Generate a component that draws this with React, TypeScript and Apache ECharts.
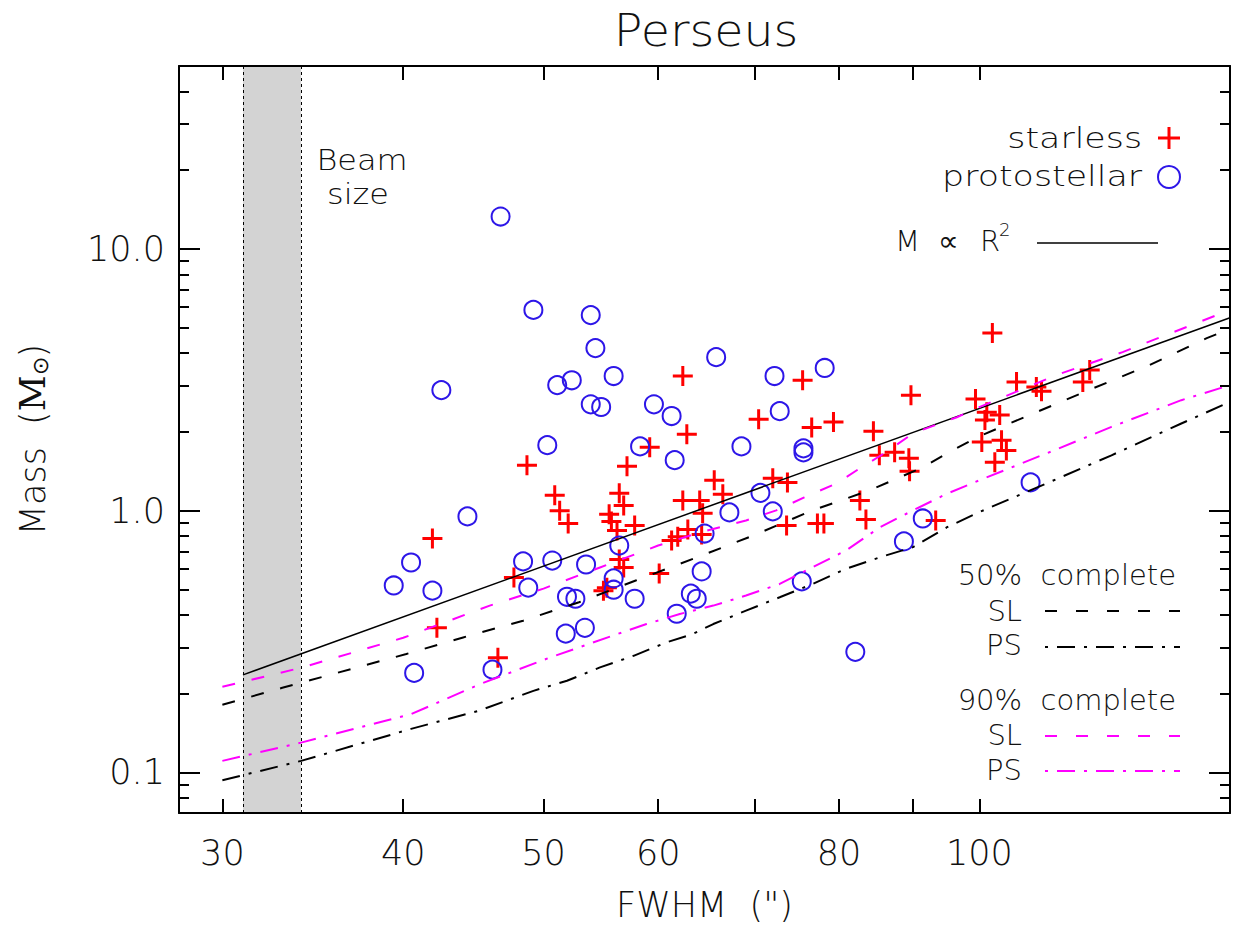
import React, { useEffect, useRef } from 'react';
import * as echarts from 'echarts';

// ---- axis ticks ----
const xTickValues = [30, 40, 50, 60, 70, 80, 90, 100];
const xLabelValues = [30, 40, 50, 60, 80, 100];
const yMajorValues = [0.1, 1, 10];
const yMinorValues = [0.08, 0.09, 0.2, 0.3, 0.4, 0.5, 0.6, 0.7, 0.8, 0.9, 2, 3, 4, 5, 6, 7, 8, 9, 20, 30, 40];

// ---- starless cores ----
const starlessFWHM = [41.9, 42.2, 46.5, 47.7, 48.7, 50.9, 51.3, 52.0, 55.5, 55.7, 56.2, 56.4, 56.8, 57.1, 57.8, 56.4, 56.8, 55.0, 55.3, 59.2, 60.1, 62.4, 62.8, 62.4, 64.1, 64.4, 62.9, 64.3, 61.3, 61.9, 65.6, 66.5, 70.4, 72.0, 73.7, 73.6, 75.5, 76.6, 79.3, 77.3, 78.1, 84.5, 82.7, 83.5, 85.3, 87.4, 89.4, 89.5, 89.7, 93.3, 99.4, 101.2, 100.9, 103.3, 100.4, 103.6, 104.4, 102.5, 102.1, 106.1, 109.5, 110.4, 117.9, 119.2];
const starlessMass = [0.783, 0.357, 0.274, 0.556, 1.49, 1.145, 1.0, 0.894, 0.97, 0.91, 0.84, 1.165, 1.048, 1.48, 0.878, 0.651, 0.607, 0.495, 0.508, 1.747, 0.575, 3.27, 1.96, 1.095, 1.095, 0.977, 0.848, 0.811, 0.769, 0.796, 1.306, 1.155, 2.236, 1.329, 1.283, 0.878, 3.15, 2.08, 2.18, 0.894, 0.894, 2.01, 1.095, 0.926, 1.628, 1.672, 1.585, 1.414, 2.76, 0.918, 2.67, 2.38, 2.22, 2.32, 1.83, 1.86, 1.70, 1.53, 4.77, 3.10, 2.97, 2.86, 3.10, 3.45];

// ---- protostellar cores ----
const protoFWHM = [46.7, 49.2, 53.9, 54.3, 42.5, 51.1, 52.3, 55.9, 53.9, 54.8, 59.6, 61.3, 50.3, 58.3, 61.6, 65.8, 72.2, 78.2, 72.8, 68.5, 75.6, 75.6, 70.6, 67.2, 72.0, 64.6, 64.3, 63.2, 63.8, 61.8, 75.4, 82.1, 88.7, 91.4, 108.5, 44.3, 40.5, 39.4, 41.9, 40.7, 46.1, 48.4, 48.8, 50.7, 53.5, 51.9, 52.6, 51.8, 53.4, 56.4, 55.9, 55.9, 57.8];
const protoMass = [13.3, 5.85, 5.59, 4.18, 2.89, 3.02, 3.15, 3.27, 2.55, 2.49, 2.55, 2.30, 1.78, 1.76, 1.56, 3.86, 3.27, 3.51, 2.40, 1.76, 1.73, 1.67, 1.17, 0.985, 0.994, 0.818, 0.586, 0.482, 0.461, 0.404, 0.537, 0.289, 0.763, 0.934, 1.283, 0.951, 0.634, 0.518, 0.495, 0.240, 0.247, 0.640, 0.508, 0.645, 0.623, 0.469, 0.461, 0.339, 0.357, 0.736, 0.551, 0.499, 0.461];

// ---- M ∝ R^2 ----
const powerLawFWHM = [31, 149];
const powerLawMass = [0.236, 5.46];

// ---- completeness curves ----
const sl50FWHM = [30, 33.0, 40.2, 44.0, 48.4, 52.9, 57.9, 63.8, 69.8, 76.7, 84.0, 91.4, 95.0, 100, 109.5, 119.9, 131.1, 143.6, 149];
const sl50Mass = [0.1813, 0.2106, 0.2835, 0.328, 0.380, 0.447, 0.541, 0.663, 0.804, 1.003, 1.196, 1.465, 1.657, 1.925, 2.380, 2.937, 3.600, 4.564, 4.949];
const ps50FWHM = [30, 34.0, 40.5, 45.1, 49.2, 51.9, 54.7, 57.7, 60.8, 63.4, 65.5, 69.0, 72.8, 76.7, 80.9, 85.4, 90.0, 95.0, 100, 111.2, 123.4, 137.9, 149];
const ps50Mass = [0.0934, 0.1107, 0.1467, 0.172, 0.205, 0.224, 0.252, 0.279, 0.314, 0.338, 0.369, 0.415, 0.467, 0.525, 0.600, 0.664, 0.726, 0.865, 0.988, 1.269, 1.628, 2.153, 2.604];
const sl90FWHM = [30, 34.0, 40, 45.9, 50, 54.7, 60, 64.1, 69.0, 72.4, 75.7, 79.7, 82.7, 86.2, 90, 96.5, 100, 113.0, 125.6, 141.9, 149];
const sl90Mass = [0.2125, 0.2512, 0.327, 0.434, 0.504, 0.607, 0.736, 0.826, 0.918, 1.003, 1.124, 1.272, 1.452, 1.672, 1.976, 2.276, 2.488, 3.295, 4.036, 5.26, 5.845];
const ps90FWHM = [30, 34.0, 40.5, 42.8, 45.2, 47.8, 50.2, 52.9, 55.8, 58.9, 62.1, 65.5, 69.0, 72.8, 76.7, 80.9, 85.4, 90.0, 95.0, 100, 111.2, 123.4, 137.9, 149];
const ps90Mass = [0.1107, 0.130, 0.167, 0.1907, 0.2176, 0.2447, 0.2713, 0.3005, 0.333, 0.369, 0.403, 0.434, 0.474, 0.525, 0.608, 0.705, 0.865, 1.003, 1.162, 1.306, 1.653, 2.090, 2.644, 3.018];

// ---- beam size band ----
const beamRange = [31, 34];

const FONT = 'DejaVu Sans';
const RED = '#ff0000';
const BLUE = '#2d16e8';
const MAGENTA = '#ff00ff';
const DASH = [13, 17];
const DASHDOT = [18, 9, 3, 9];

const zip = (a: number[], b: number[]) => a.map((v, i) => [v, b[i]]);

export default function App() {
  const ref = useRef<HTMLDivElement>(null);
  useEffect(() => {
    const chart = echarts.init(ref.current!, null, { renderer: 'svg' });
    const tickStyle = { color: '#000', width: 2 };
    const xBase: any = {
      type: 'log', logBase: 10, min: 28, max: 149, z: 10,
      splitLine: { show: false },
      axisLine: { show: true, lineStyle: { color: '#000', width: 2 } },
      axisTick: { show: true, inside: true, length: 14, customValues: xTickValues, lineStyle: tickStyle },
    };
    const yBase: any = {
      type: 'log', logBase: 10, min: 0.07, max: 50, z: 10,
      splitLine: { show: false },
      axisLine: { show: true, lineStyle: { color: '#000', width: 2 } },
    };
    const text = (t: string, x: number, y: number, size: number, align: string, sx = 1, extra: any = {}) => ({
      type: 'text', x, y, scaleX: sx, z: 100,
      style: { text: t, fontSize: size, fontFamily: FONT, fontWeight: 200, fill: '#111', align, verticalAlign: 'middle', ...extra },
    });
    const hline = (x1: number, x2: number, y: number, color: string, dash: any, w = 2) => ({
      type: 'line', z: 100,
      shape: { x1, y1: y, x2, y2: y },
      style: { stroke: color, lineWidth: w, lineDash: dash },
    });

    chart.setOption({
      animation: false,
      grid: { left: 179, top: 66, right: 9, bottom: 118 },
      xAxis: [
        {
          ...xBase, position: 'bottom',
          axisLabel: {
            customValues: xLabelValues, fontSize: 35, fontFamily: FONT, fontWeight: 200, color: '#111', margin: 22,
            formatter: (v: number) => String(Math.round(v)),
          },
          name: 'FWHM  (")', nameLocation: 'middle', nameGap: 74,
          nameTextStyle: { fontSize: 35, fontFamily: FONT, fontWeight: 200, color: '#111' },
        },
        { ...xBase, position: 'top', axisLabel: { show: false } },
      ],
      yAxis: [
        {
          ...yBase, position: 'left',
          axisTick: { show: true, inside: true, length: 21, customValues: yMajorValues, lineStyle: tickStyle },
          axisLabel: {
            customValues: yMajorValues, fontSize: 35, fontFamily: FONT, fontWeight: 200, color: '#111', margin: 14,
            formatter: (v: number) => v.toFixed(1),
          },
          name: 'Mass  ({m|M}{o|⊙})', nameLocation: 'middle', nameGap: 128,
          nameTextStyle: {
            fontSize: 35, fontFamily: FONT, fontWeight: 200, color: '#111',
            rich: {
              m: { fontSize: 35, fontFamily: 'DejaVu Serif', color: '#111' },
              o: { fontSize: 22, fontFamily: FONT, color: '#111', verticalAlign: 'bottom', padding: [14, 0, 0, 0] },
            },
          },
        },
        {
          ...yBase, position: 'left', axisLine: { show: false },
          axisTick: { show: true, inside: true, length: 10, customValues: yMinorValues, lineStyle: tickStyle },
          axisLabel: { show: false },
        },
        {
          ...yBase, position: 'right',
          axisTick: { show: true, inside: true, length: 21, customValues: yMajorValues, lineStyle: tickStyle },
          axisLabel: { show: false },
        },
        {
          ...yBase, position: 'right', axisLine: { show: false },
          axisTick: { show: true, inside: true, length: 10, customValues: yMinorValues, lineStyle: tickStyle },
          axisLabel: { show: false },
        },
      ],
      series: [
        {
          name: 'beam', type: 'line', data: [], z: 1, silent: true,
          markArea: {
            silent: true, itemStyle: { color: '#d3d3d3' },
            data: [[{ xAxis: beamRange[0] }, { xAxis: beamRange[1] }]],
          },
          markLine: {
            silent: true, symbol: 'none', label: { show: false },
            lineStyle: { color: '#000', width: 1, type: [3, 3] },
            data: [{ xAxis: beamRange[0] }, { xAxis: beamRange[1] }],
          },
        },
        {
          name: 'starless', type: 'scatter', z: 3,
          data: zip(starlessFWHM, starlessMass),
          symbol: 'path://M10,0L10,20M0,10L20,10', symbolSize: 20,
          itemStyle: { color: 'rgba(0,0,0,0)', borderColor: RED, borderWidth: 3, opacity: 1 },
        },
        {
          name: 'protostellar', type: 'scatter', z: 3,
          data: zip(protoFWHM, protoMass),
          symbol: 'circle', symbolSize: 18,
          itemStyle: { color: 'rgba(0,0,0,0)', borderColor: BLUE, borderWidth: 2, opacity: 1 },
        },
        {
          name: 'M ∝ R²', type: 'line', z: 4, showSymbol: false, data: zip(powerLawFWHM, powerLawMass),
          lineStyle: { color: '#000', width: 1.5 },
        },
        {
          name: '50% SL', type: 'line', z: 4, showSymbol: false, data: zip(sl50FWHM, sl50Mass),
          lineStyle: { color: '#000', width: 2, type: DASH },
        },
        {
          name: '50% PS', type: 'line', z: 4, showSymbol: false, data: zip(ps50FWHM, ps50Mass),
          lineStyle: { color: '#000', width: 2, type: DASHDOT },
        },
        {
          name: '90% SL', type: 'line', z: 4, showSymbol: false, data: zip(sl90FWHM, sl90Mass),
          lineStyle: { color: MAGENTA, width: 2, type: DASH },
        },
        {
          name: '90% PS', type: 'line', z: 4, showSymbol: false, data: zip(ps90FWHM, ps90Mass),
          lineStyle: { color: MAGENTA, width: 2, type: DASHDOT },
        },
      ],
      graphic: [
        text('Perseus', 706, 31, 44, 'center', 1.08),
        text('Beam', 362, 160, 29, 'center', 1.1),
        text('size', 358, 194, 29, 'center', 1.1),
        text('starless', 1142, 138, 29, 'right', 1.2),
        text('protostellar', 1142, 176, 29, 'right', 1.2),
        { type: 'line', z: 100, shape: { x1: 1158, y1: 138, x2: 1180, y2: 138 }, style: { stroke: RED, lineWidth: 3 } },
        { type: 'line', z: 100, shape: { x1: 1169, y1: 127, x2: 1169, y2: 149 }, style: { stroke: RED, lineWidth: 3 } },
        { type: 'circle', z: 100, shape: { cx: 1169, cy: 177, r: 11 }, style: { stroke: BLUE, lineWidth: 2, fill: 'none' } },
        text('M', 895, 241, 29, 'left'),
        text('∝', 938, 241, 29, 'left', 1, { fontWeight: 'normal', fontFamily: 'DejaVu Sans' }),
        text('R', 980, 241, 29, 'left'),
        text('2', 999, 229, 18, 'left'),
        hline(1037, 1158, 243, '#000', null, 1.5),
        text('50%  complete', 1176, 575, 29, 'right'),
        text('SL', 1022, 611, 29, 'right'),
        hline(1045, 1180, 611, '#000', [12, 19]),
        text('PS', 1022, 645, 29, 'right'),
        hline(1045, 1180, 647, '#000', [3, 9, 18, 9]),
        text('90%  complete', 1176, 700, 29, 'right'),
        text('SL', 1022, 735, 29, 'right'),
        hline(1045, 1180, 736, MAGENTA, [12, 19]),
        text('PS', 1022, 770, 29, 'right'),
        hline(1045, 1180, 771, MAGENTA, [3, 9, 18, 9]),
      ],
    });
    return () => chart.dispose();
  }, []);
  return <div ref={ref} style={{ position: 'fixed', left: 0, top: 0, width: 1239, height: 931, background: '#fff' }} />;
}
